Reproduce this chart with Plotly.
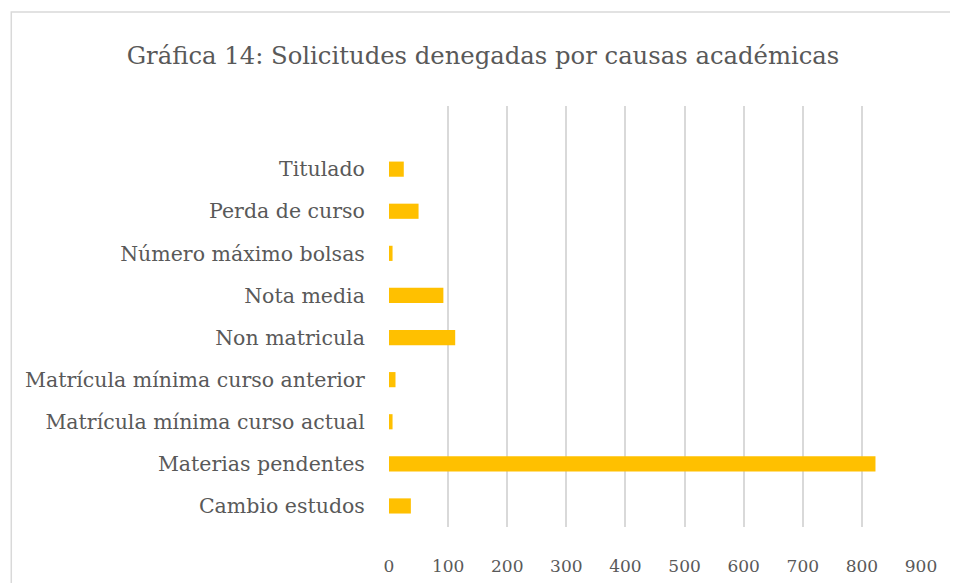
import plotly.graph_objects as go

# bottom to top, as in the source sheet
causas = [
    "Cambio estudos",
    "Materias pendentes",
    "Matrícula mínima curso actual",
    "Matrícula mínima curso anterior",
    "Non matricula",
    "Nota media",
    "Número máximo bolsas",
    "Perda de curso",
    "Titulado",
]
solicitudes = [37, 823, 6, 11, 112, 92, 6, 50, 25]
x_ticks = [0, 100, 200, 300, 400, 500, 600, 700, 800, 900]

GREY = "#595959"
FONT = "DejaVu Serif"

fig = go.Figure(
    go.Bar(
        x=solicitudes,
        y=causas,
        orientation="h",
        marker=dict(color="#FFC000", line=dict(width=0)),
        width=0.36,
        hovertemplate="%{y}: %{x}<extra></extra>",
    )
)

# the page body adds an 8px margin, so the figure is sized to fit inside it
fig.update_layout(
    width=950,
    height=575,
    margin=dict(l=381, r=37, t=98, b=56),
    paper_bgcolor="white",
    plot_bgcolor="white",
    showlegend=False,
    title=dict(
        text="Gráfica 14: Solicitudes denegadas por causas académicas",
        x=0.5,
        xanchor="center",
        y=0.918,
        yanchor="middle",
        font=dict(family=FONT, size=24.3, color=GREY),
    ),
    shapes=[
        dict(
            type="rect",
            xref="paper",
            yref="paper",
            x0=-0.71,
            x1=1.3,
            y0=-0.3,
            y1=1.223,
            line=dict(color="#d9d9d9", width=1.5),
            layer="below",
        )
    ],
)

fig.update_xaxes(
    range=[0, 900],
    tickvals=x_ticks,
    showgrid=True,
    gridcolor="#d9d9d9",
    gridwidth=1.5,
    zeroline=False,
    showline=False,
    automargin=False,
    ticks="outside",
    ticklen=24,
    tickcolor="rgba(0,0,0,0)",
    tickfont=dict(family=FONT, size=17, color=GREY),
)
fig.update_yaxes(
    categoryorder="array",
    categoryarray=causas,
    range=[-0.5, 9.5],
    showgrid=False,
    zeroline=False,
    showline=False,
    automargin=False,
    ticks="outside",
    ticklen=19,
    tickcolor="rgba(0,0,0,0)",
    tickfont=dict(family=FONT, size=20.5, color=GREY),
)

fig.write_html("out.html")
